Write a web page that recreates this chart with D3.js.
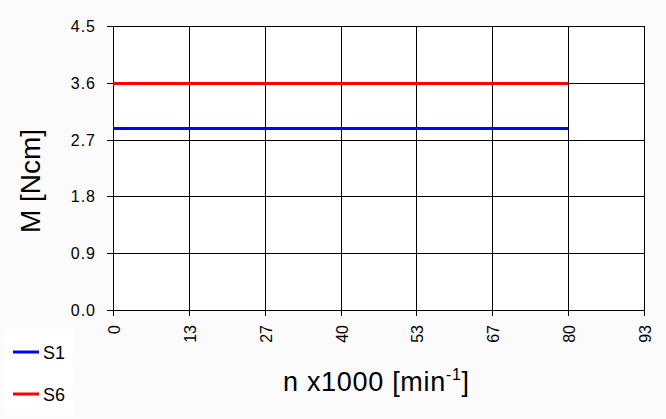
<!DOCTYPE html>
<html><head><meta charset="utf-8">
<script src="https://cdn.jsdelivr.net/npm/d3@7"></script>
<style>body{margin:0;background:#fbfbfb;}svg{display:block;font-family:"Liberation Sans",Arial,sans-serif;}</style>
</head><body>
<script>
const xTicks = [0, 40/3, 80/3, 40, 160/3, 200/3, 80, 280/3];
const xTickLabels = ["0","13","27","40","53","67","80","93"];
const yTicks = [0, 0.9, 1.8, 2.7, 3.6, 4.5];
const yTickLabels = ["0.0","0.9","1.8","2.7","3.6","4.5"];
const seriesNames = ["S1", "S6"];
const seriesColors = ["#0000ff", "#ff0000"];
const s1X = [0, 80], s1Y = [2.88, 2.88];
const s6X = [0, 80], s6Y = [3.6, 3.6];

const W = 666, H = 419;
const L = 113, R = 644, T = 26, B = 310;
const svg = d3.select("body").append("svg").attr("width", W).attr("height", H);
svg.append("rect").attr("width", W).attr("height", H).attr("fill", "#fbfbfb");
const x = d3.scaleLinear().domain([0, 280/3]).range([L, R]);
const y = d3.scaleLinear().domain([0, 4.5]).range([B, T]);
svg.append("rect").attr("x", L).attr("y", T).attr("width", R - L).attr("height", B - T).attr("fill", "#ffffff");

const g = svg.append("g");
// grid
g.selectAll(".vg").data(xTicks).enter().append("line")
  .attr("x1", d => Math.round(x(d)) + 0.5).attr("x2", d => Math.round(x(d)) + 0.5)
  .attr("y1", T).attr("y2", B + 6).attr("stroke", "#000").attr("stroke-width", 1);
g.selectAll(".hg").data(yTicks).enter().append("line")
  .attr("y1", d => Math.round(y(d)) + 0.5).attr("y2", d => Math.round(y(d)) + 0.5)
  .attr("x1", L - 6).attr("x2", R).attr("stroke", "#000").attr("stroke-width", 1);

// y tick labels
g.selectAll(".yl").data(yTicks).enter().append("text")
  .attr("x", 96).attr("y", d => Math.round(y(d)) + 6)
  .attr("text-anchor", "end").attr("font-size", 16).attr("letter-spacing", 1)
  .text((d, i) => yTickLabels[i]);
// x tick labels
g.selectAll(".xl").data(xTicks).enter().append("text")
  .attr("transform", d => `translate(${Math.round(x(d)) + 6.5},325) rotate(-90)`)
  .attr("text-anchor", "end").attr("font-size", 16)
  .text((d, i) => xTickLabels[i]);

// series
const line = d3.line().x(d => x(d[0])).y(d => Math.round(y(d[1])) + 0.5);
const series = [[s1X, s1Y], [s6X, s6Y]];
series.forEach((s, i) => {
  const pts = s[0].map((v, k) => [v, s[1][k]]);
  g.append("path").attr("d", line(pts)).attr("fill", "none")
    .attr("stroke", seriesColors[i]).attr("stroke-width", 3);
});

// axis titles
svg.append("text").attr("transform", "translate(40,181) rotate(-90)")
  .attr("text-anchor", "middle").attr("font-size", 28)
  .attr("textLength", 104).attr("lengthAdjust", "spacing").text("M [Ncm]");
const xt = svg.append("text").attr("x", 283).attr("y", 391).attr("font-size", 27)
  .attr("textLength", 186).attr("lengthAdjust", "spacing");
xt.append("tspan").text("n x1000 [min");
xt.append("tspan").attr("font-size", 16).attr("dy", -11).text("-1");
xt.append("tspan").attr("dy", 11).text("]");

// legend
svg.append("rect").attr("x", 5).attr("y", 329).attr("width", 68).attr("height", 86).attr("fill", "#ffffff");
seriesNames.forEach((n, i) => {
  const ly = 352 + i * 42;
  svg.append("line").attr("x1", 13).attr("x2", 39).attr("y1", ly).attr("y2", ly)
    .attr("stroke", seriesColors[i]).attr("stroke-width", 3);
  svg.append("text").attr("x", 43).attr("y", ly + 6.5).attr("font-size", 18).text(n);
});
</script>
</body></html>
